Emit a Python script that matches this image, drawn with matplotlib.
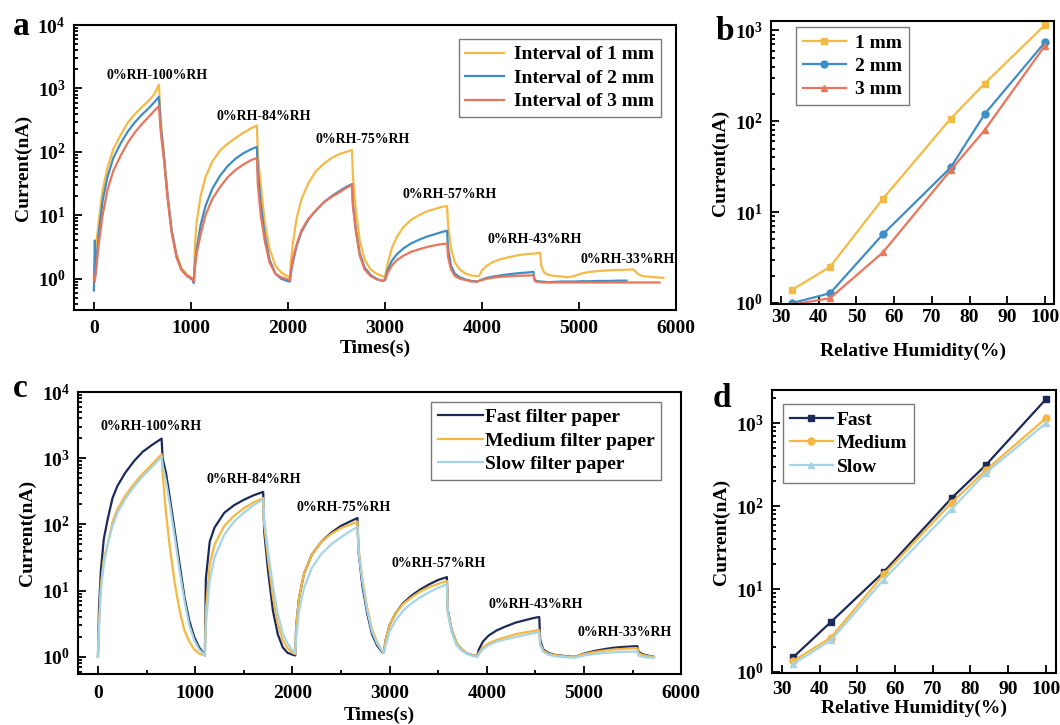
import numpy as np
import matplotlib
matplotlib.use('Agg')
from matplotlib import pyplot as plt
from matplotlib.ticker import LogLocator, MultipleLocator, NullFormatter

plt.rcParams['font.family'] = ['Liberation Serif', 'DejaVu Serif']
plt.rcParams['font.weight'] = 'bold'
plt.rcParams['axes.labelweight'] = 'bold'
plt.rcParams['mathtext.fontset'] = 'custom'
plt.rcParams['mathtext.rm'] = 'Liberation Serif:bold'
plt.rcParams['mathtext.it'] = 'Liberation Serif:bold:italic'
plt.rcParams['mathtext.bf'] = 'Liberation Serif:bold'

nan = np.nan

# ---- panel a: current vs time, three electrode intervals ----
t_a = [0, 10, 20, 50, 90, 140, 200, 280, 350, 420, 490, 560, 620, 670, 690, 720, 760, 800, 850, 900, 960, 1020, 1030,
       1040, 1060, 1100, 1150, 1220, 1300, 1380, 1460, 1540, 1620, 1680, 1690, 1720, 1760, 1810, 1870, 1930, 1990, 2020,
       2030, 2050, 2090, 2140, 2210, 2290, 2370, 2450, 2530, 2600, 2660, 2670, 2700, 2740, 2790, 2850, 2910, 2970, 3000,
       3010, 3030, 3070, 3120, 3190, 3270, 3350, 3430, 3510, 3580, 3640, 3650, 3680, 3720, 3770, 3830, 3890, 3950,
       3970, 4000, 4050, 4120, 4200, 4290, 4380, 4470, 4530, 4540, 4550, 4600, 4610, 4640, 4680, 4750, 4820, 4890,
       4950, 5020, 5100, 5200, 5300, 5400, 5490, 5560, 5600, 5650, 5750, 5830, 5870]

i_1mm = [1.0, 1.2, 3.0, 8, 25, 56, 110, 190, 290, 390, 500, 630, 800, 1150, 300, 100, 20, 6, 2.5, 1.5, 1.15, 1.0, 0.95,
         3.2, 8, 20, 40, 70, 105, 135, 165, 200, 235, 260, 90, 30, 8, 3, 1.6, 1.25, 1.1, 1.05,
         1.8, 3.5, 9, 18, 32, 50, 65, 80, 92, 100, 107, 40, 12, 4, 2, 1.4, 1.2, 1.1, 1.05,
         1.3, 1.8, 3, 4.5, 6.5, 8.5, 10, 11.5, 12.5, 13.5, 14, 7, 3, 1.8, 1.4, 1.2, 1.12, 1.1,
         1.1, 1.35, 1.6, 1.85, 2.05, 2.2, 2.35, 2.45, 2.48, 2.5, 2.5, 2.55, 1.6, 1.25, 1.15, 1.1, 1.08, 1.05,
         1.1, 1.2, 1.27, 1.32, 1.35, 1.37, 1.38, 1.4, 1.2, 1.1, 1.06, 1.04, 1.03]

i_2mm = [0.65, 4.0, 1.2, 5, 17, 40, 80, 140, 210, 290, 380, 480, 600, 740, 250, 90, 20, 6, 2.3, 1.4, 1.1, 0.95, 0.85,
         1.5, 3, 7, 14, 26, 42, 60, 78, 95, 110, 120, 50, 15, 5, 2, 1.2, 1.0, 0.92, 0.9,
         1.2, 1.8, 3.3, 5.5, 8.5, 12, 16, 20, 24, 28, 31, 15, 6, 2.5, 1.5, 1.15, 1.0, 0.92, 0.95,
         1.1, 1.4, 1.9, 2.4, 3.0, 3.6, 4.1, 4.6, 5.0, 5.4, 5.7, 3, 1.6, 1.2, 1.05, 0.97, 0.92, 0.9,
         0.92, 0.97, 1.03, 1.08, 1.13, 1.18, 1.22, 1.25, 1.28, 1.0, 0.93, 0.9, 0.9, 0.89, 0.88, 0.89, 0.9, 0.9,
         0.9, 0.91, 0.91, 0.92, 0.92, 0.93, 0.93, nan, nan, nan, nan, nan, nan]

i_3mm = [1.1, 0.9, 1.3, 3.5, 10, 25, 50, 90, 140, 200, 270, 350, 440, 530, 200, 80, 18, 5.5, 2.2, 1.4, 1.1, 1.0, 0.9,
         1.5, 2.5, 5, 10, 18, 28, 40, 52, 63, 74, 80, 30, 10, 4, 1.8, 1.2, 1.05, 0.98, 0.95,
         1.3, 2.0, 3.5, 5.8, 8.8, 12, 16, 19.5, 23, 27, 30, 14, 5.5, 2.3, 1.4, 1.1, 0.98, 0.93, 0.95,
         1.05, 1.25, 1.6, 1.95, 2.3, 2.65, 2.9, 3.15, 3.35, 3.5, 3.6, 2.2, 1.4, 1.1, 1.0, 0.95, 0.9, 0.9,
         0.92, 0.95, 1.0, 1.04, 1.07, 1.09, 1.11, 1.12, 1.13, 0.95, 0.9, 0.88, 0.88, 0.87, 0.87, 0.87, 0.87, 0.87,
         0.87, 0.87, 0.87, 0.87, 0.87, 0.87, 0.87, 0.87, 0.87, 0.87, 0.87, 0.87, nan]

# ---- panel b: peak current vs RH ----
rh = [33, 43, 57, 75, 84, 100]
peak_1mm = [1.4, 2.5, 14, 107, 260, 1150]
peak_2mm = [1.0, 1.28, 5.7, 31, 120, 740]
peak_3mm = [0.96, 1.13, 3.6, 29, 80, 680]

# ---- panel c: current vs time, three filter papers ----
t_c = [0, 10, 30, 60, 100, 150, 200, 280, 370, 460, 560, 655, 665, 700, 740, 790, 840, 890, 940, 990, 1040, 1100,
       1110, 1150, 1200, 1300, 1400, 1500, 1600, 1700, 1710, 1750, 1800, 1850, 1900, 1950, 2000, 2030,
       2040, 2070, 2120, 2200, 2300, 2400, 2500, 2600, 2670, 2680, 2720, 2770, 2820, 2870, 2920, 2940,
       2960, 3000, 3060, 3140, 3230, 3320, 3410, 3500, 3590, 3600, 3640, 3690, 3740, 3800, 3860, 3900,
       3920, 3960, 4020, 4100, 4200, 4300, 4400, 4480, 4540, 4550, 4580, 4630, 4700, 4800, 4900,
       4950, 5000, 5100, 5200, 5300, 5400, 5500, 5550, 5560, 5600, 5650, 5720]

i_fast = [1.0, 5, 20, 60, 120, 250, 380, 600, 900, 1250, 1600, 1980, 1000, 600, 250, 80, 25, 8, 3.5, 2, 1.4, 1.05,
          15, 55, 90, 150, 195, 235, 275, 310, 80, 20, 5, 2.2, 1.4, 1.15, 1.08, 1.05,
          3, 8, 18, 35, 55, 75, 95, 112, 125, 40, 12, 4.5, 2.2, 1.5, 1.2, 1.15,
          1.8, 3, 4.5, 6.5, 8.5, 10.5, 12.5, 14.5, 16, 5, 2.5, 1.6, 1.3, 1.12, 1.05, 1.02,
          1.3, 1.7, 2.1, 2.5, 2.9, 3.3, 3.6, 3.85, 4.0, 1.8, 1.3, 1.15, 1.07, 1.03, 1.0,
          1.05, 1.12, 1.22, 1.3, 1.37, 1.41, 1.44, 1.45, 1.2, 1.1, 1.05, 1.0]

i_medium = [1.0, 3, 12, 30, 50, 110, 170, 270, 410, 580, 820, 1150, 600, 150, 45, 13, 5, 2.5, 1.7, 1.3, 1.12, 1.05,
            5, 25, 50, 95, 135, 175, 215, 250, 100, 30, 8, 3.2, 1.8, 1.35, 1.15, 1.1,
            3, 8, 18, 35, 55, 72, 88, 100, 110, 45, 15, 5.5, 2.6, 1.7, 1.25, 1.15,
            1.8, 3, 4.5, 6.3, 8, 9.8, 11.3, 12.7, 14, 5, 2.5, 1.6, 1.3, 1.12, 1.05, 1.02,
            1.15, 1.4, 1.6, 1.8, 2.0, 2.2, 2.35, 2.45, 2.55, 1.6, 1.25, 1.12, 1.06, 1.02, 1.0,
            1.05, 1.1, 1.18, 1.24, 1.29, 1.32, 1.34, 1.35, 1.15, 1.07, 1.03, 1.0]

i_slow = [1.0, 2.5, 10, 25, 50, 95, 150, 240, 370, 530, 750, 1050, 800, 450, 200, 65, 20, 7, 3, 1.8, 1.3, 1.05,
          3, 14, 32, 70, 110, 150, 195, 240, 120, 40, 12, 4.5, 2.3, 1.6, 1.25, 1.12,
          2, 5, 11, 22, 36, 50, 64, 80, 92, 40, 14, 5, 2.4, 1.6, 1.25, 1.15,
          1.5, 2.4, 3.5, 5, 6.5, 8, 9.5, 11, 12.5, 4.5, 2.3, 1.5, 1.25, 1.1, 1.03, 1.0,
          1.1, 1.3, 1.5, 1.7, 1.85, 2.0, 2.15, 2.28, 2.35, 1.5, 1.2, 1.08, 1.02, 0.99, 0.97,
          1.0, 1.05, 1.1, 1.14, 1.17, 1.19, 1.2, 1.2, 1.05, 1.0, 0.98, 0.97]

# ---- panel d: peak current vs RH ----
peak_fast = [1.5, 4.0, 16, 125, 310, 1950]
peak_medium = [1.35, 2.6, 15, 110, 270, 1150]
peak_slow = [1.25, 2.4, 13, 92, 250, 1000]

step_labels = ['0%RH-100%RH', '0%RH-84%RH', '0%RH-75%RH', '0%RH-57%RH', '0%RH-43%RH', '0%RH-33%RH']
label_t_a = [650, 1755, 2770, 3670, 4545, 5500]
label_y_a = [1600, 360, 155, 21, 4.2, 2.0]
label_t_c = [550, 1600, 2530, 3500, 4500, 5420]
label_y_c = [3000, 480, 182, 26, 6.1, 2.3]

YELLOW = '#F5BA45'
BLUE = '#3F8DC4'
RED = '#E8765C'
NAVY = '#1B2A58'
ORANGE = '#F5B73F'
LIGHT = '#A6D4E4'


def style(ax, xpad):
    ax.set_yscale('log')
    for sp in ax.spines.values():
        sp.set_linewidth(1.5)
    ax.tick_params(which='both', direction='in', top=False, right=False, labelsize=14, width=1.3)
    ax.tick_params(which='major', length=6)
    ax.tick_params(which='minor', length=3)
    ax.tick_params(axis='x', pad=xpad)
    ax.tick_params(axis='y', pad=6)
    ax.yaxis.set_major_locator(LogLocator(base=10, numticks=10))
    ax.yaxis.set_minor_locator(LogLocator(base=10, subs=np.arange(2, 10), numticks=10))
    ax.yaxis.set_minor_formatter(NullFormatter())


def legend(ax, loc, anchor, hl, pad):
    lg = ax.legend(loc=loc, bbox_to_anchor=anchor, fontsize=14, frameon=True, fancybox=False,
                   edgecolor='#7a7a7a', framealpha=1, handlelength=hl, handletextpad=pad,
                   labelspacing=0.3, borderpad=0.35, borderaxespad=0)
    lg.get_frame().set_linewidth(1.0)


fig = plt.figure(figsize=(10.6, 7.25), dpi=100)
ax_a = fig.add_axes([0.0698, 0.5724, 0.568, 0.393])
ax_b = fig.add_axes([0.7274, 0.5807, 0.267, 0.390])
ax_c = fig.add_axes([0.0736, 0.0703, 0.569, 0.389])
ax_d = fig.add_axes([0.7283, 0.0717, 0.268, 0.390])

# a
style(ax_a, 7)
ax_a.plot(t_a, i_1mm, color=YELLOW, lw=1.6, label='Interval of 1 mm')
ax_a.plot(t_a, i_2mm, color=BLUE, lw=1.6, label='Interval of 2 mm')
ax_a.plot(t_a, i_3mm, color=RED, lw=1.6, label='Interval of 3 mm')
ax_a.set_xlim(-205, 6000)
ax_a.set_ylim(0.32, 1e4)
ax_a.xaxis.set_major_locator(MultipleLocator(1000))
ax_a.set_xlabel('Times(s)', fontsize=14, labelpad=2)
ax_a.set_ylabel('Current(nA)', fontsize=14)
for s, x, y in zip(step_labels, label_t_a, label_y_a):
    ax_a.text(x, y, s, ha='center', va='center', fontsize=10, fontweight='bold')
legend(ax_a, 'upper right', (0.975, 0.951), 2.0, 0.5)

# b
style(ax_b, 3.5)
ax_b.plot(rh, peak_1mm, color=YELLOW, lw=1.6, marker='s', ms=5, label='1 mm')
ax_b.plot(rh, peak_2mm, color=BLUE, lw=1.6, marker='o', ms=5, label='2 mm')
ax_b.plot(rh, peak_3mm, color=RED, lw=1.6, marker='^', ms=5, label='3 mm')
ax_b.set_xlim(27.35, 102.4)
ax_b.set_ylim(0.975, 1260)
ax_b.xaxis.set_major_locator(MultipleLocator(10))
ax_b.set_xlabel('Relative Humidity(%)', fontsize=14, labelpad=12)
ax_b.set_ylabel('Current(nA)', fontsize=14)
legend(ax_b, 'upper left', (0.088, 0.979), 2.2, 0.5)

# c
style(ax_c, 8)
ax_c.plot(t_c, i_fast, color=NAVY, lw=1.6, label='Fast filter paper')
ax_c.plot(t_c, i_medium, color=ORANGE, lw=1.6, label='Medium filter paper')
ax_c.plot(t_c, i_slow, color=LIGHT, lw=1.6, label='Slow filter paper')
ax_c.set_xlim(-205, 6000)
ax_c.set_ylim(0.55, 1e4)
ax_c.xaxis.set_major_locator(MultipleLocator(1000))
ax_c.xaxis.set_minor_locator(MultipleLocator(500))
ax_c.set_xlabel('Times(s)', fontsize=14, labelpad=3)
ax_c.set_ylabel('Current(nA)', fontsize=14)
for s, x, y in zip(step_labels, label_t_c, label_y_c):
    ax_c.text(x, y, s, ha='center', va='center', fontsize=10, fontweight='bold')
legend(ax_c, 'upper right', (0.967, 0.965), 2.3, 0.1)

# d
style(ax_d, 6)
ax_d.plot(rh, peak_fast, color=NAVY, lw=1.6, marker='s', ms=5, label='Fast')
ax_d.plot(rh, peak_medium, color=ORANGE, lw=1.6, marker='o', ms=5, label='Medium')
ax_d.plot(rh, peak_slow, color=LIGHT, lw=1.6, marker='^', ms=5, label='Slow')
ax_d.set_xlim(27.4, 102.7)
ax_d.set_ylim(0.97, 2500)
ax_d.xaxis.set_major_locator(MultipleLocator(10))
ax_d.set_xlabel('Relative Humidity(%)', fontsize=14, labelpad=1)
ax_d.set_ylabel('Current(nA)', fontsize=14)
legend(ax_d, 'upper left', (0.039, 0.95), 2.2, 0.2)

# panel letters
for s, x, y in [('a', 21, 35), ('b', 725, 40), ('c', 20, 397), ('d', 722, 407)]:
    fig.text(x / 1060, 1 - y / 725, s, fontsize=24, fontweight='bold', ha='center', va='baseline')

fig.savefig('out.png', dpi=100)
